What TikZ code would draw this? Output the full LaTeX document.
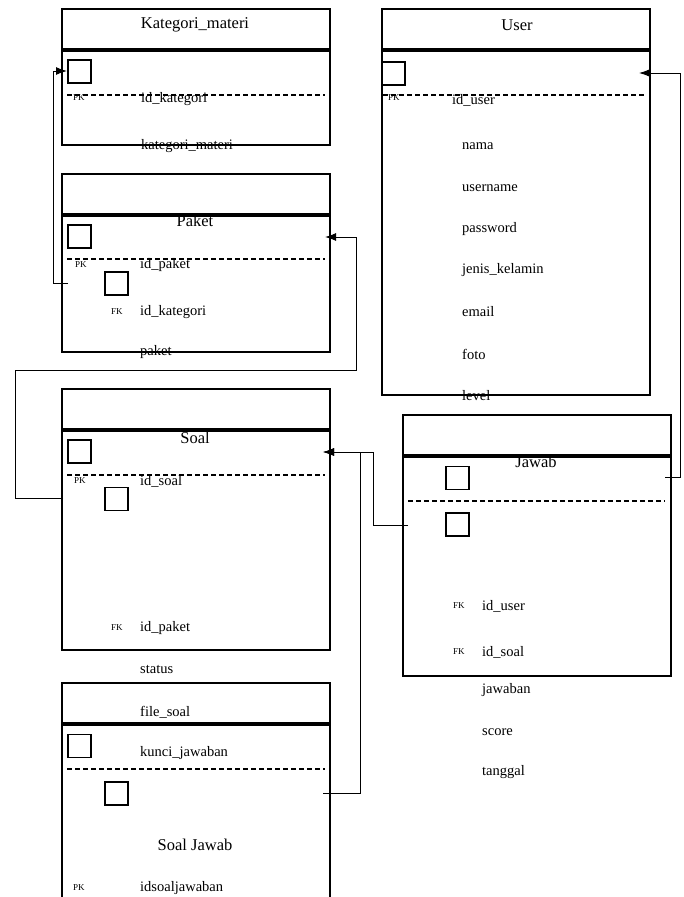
\documentclass[tikz,border=0pt]{standalone}
\usepackage{fontspec}
\setmainfont{Liberation Serif}
\usetikzlibrary{arrows.meta,positioning}

\tikzset{
  hdr/.style={draw, line width=2pt, minimum width=268pt, minimum height=40pt, inner sep=0pt, anchor=north west},
  tbody/.style={draw, line width=1.5pt, minimum width=268pt, inner sep=0pt},
  keybox/.style={draw, line width=1.5pt, minimum size=23pt, inner sep=0pt},
  field/.style={anchor=west, inner sep=0pt, font=\fontsize{14.5}{17}\selectfont},
  keytag/.style={anchor=west, inner sep=0pt, font=\fontsize{9}{10}\selectfont},
  ttl/.style={inner sep=0pt, font=\fontsize{16.5}{19}\selectfont},
  sep/.style={line width=1.3pt, dash pattern=on 5pt off 3pt},
  fk/.style={line width=1pt, -{Latex[length=11pt,width=8pt]}}
}

\begin{document}
\begin{tikzpicture}[x=1pt,y=-1pt]
\useasboundingbox (0,0) rectangle (683,897);
\clip (0,0) rectangle (683,897);

% Kategori_materi
\node[hdr] (kathead) at (61,8) {};
\node[tbody, minimum height=94pt, below=0pt of kathead] (katbody) {};
\node[ttl] (kattitle) at (195,25) {Kategori\_materi};
\node[keybox] (katk1) at (79.5,71.5) {};
\draw[sep] (67,95)--(325,95);
\node[keytag] (katpk) at (73,98) {PK};
\node[field] (katid) at (141,99) {id\_kategori};
\node[field] (katname) at (141,146) {kategori\_materi};

% User
\node[hdr] (userhead) at (381,8) {};
\node[tbody, minimum height=344pt, below=0pt of userhead] (userbody) {};
\node[ttl] (usertitle) at (517,25) {User};
\node[keybox] (userk1) at (393.5,73.5) {};
\draw[sep] (383,95)--(645,95);
\node[keytag] (userpk) at (388,98) {PK};
\node[field] (userid) at (452,100) {id\_user};
\node[field] (usernama) at (462,146) {nama};
\node[field] (useruname) at (462,188) {username};
\node[field] (userpass) at (462,229) {password};
\node[field] (userjk) at (462,270) {jenis\_kelamin};
\node[field] (usermail) at (462,312) {email};
\node[field] (userfoto) at (462,354) {foto};
\node[field] (userlevel) at (462,396) {level};

% Paket
\node[hdr] (pakethead) at (61,173) {};
\node[tbody, minimum height=136pt, below=0pt of pakethead] (paketbody) {};
\node[ttl] (pakettitle) at (195,221) {Paket};
\node[keybox] (paketk1) at (79.5,236.5) {};
\node[keybox] (paketk2) at (116.5,283.5) {};
\draw[sep] (67,259)--(325,259);
\node[keytag] (paketpk) at (75,265) {PK};
\node[field] (paketid) at (140,265) {id\_paket};
\node[keytag] (paketfk) at (111,312) {FK};
\node[field] (paketkat) at (140,312) {id\_kategori};
\node[field] (paketname) at (140,352) {paket};

% Soal
\node[hdr] (soalhead) at (61,388) {};
\node[tbody, minimum height=219pt, below=0pt of soalhead] (soalbody) {};
\node[ttl] (soaltitle) at (195,438) {Soal};
\node[keybox] (soalk1) at (79.5,451.5) {};
\node[keybox] (soalk2) at (116.5,499) {};
\draw[sep] (67,475)--(325,475);
\node[keytag] (soalpk) at (74,481) {PK};
\node[field] (soalid) at (140,481) {id\_soal};
\node[keytag] (soalfk) at (111,628) {FK};
\node[field] (soalpaket) at (140,628) {id\_paket};
\node[field] (soalstatus) at (140,669) {status};
\node[field] (soalfile) at (140,712) {file\_soal};
\node[field] (soalkunci) at (140,753) {kunci\_jawaban};

% Jawab
\node[hdr] (jawabhead) at (402,414) {};
\node[tbody, minimum height=219pt, below=0pt of jawabhead] (jawabbody) {};
\node[ttl] (jawabtitle) at (536,462) {Jawab};
\node[keybox] (jawabk1) at (457.5,478) {};
\node[keybox] (jawabk2) at (457.5,524.5) {};
\draw[sep] (408,501)--(665,501);
\node[keytag] (jawabfk1) at (453,606) {FK};
\node[field] (jawabuid) at (482,606) {id\_user};
\node[keytag] (jawabfk2) at (453,652) {FK};
\node[field] (jawabsid) at (482,652) {id\_soal};
\node[field] (jawabjwb) at (482,690) {jawaban};
\node[field] (jawabscore) at (482,732) {score};
\node[field] (jawabtgl) at (482,772) {tanggal};

% Soal Jawab
\node[hdr] (sjhead) at (61,682) {};
\node[tbody, minimum height=200pt, below=0pt of sjhead] (sjbody) {};
\node[keybox] (sjk1) at (79.5,746) {};
\node[keybox] (sjk2) at (116.5,793.5) {};
\draw[sep] (67,769)--(325,769);
\node[ttl] (sjtitle) at (195,845) {Soal Jawab};
\node[keytag] (sjpk) at (73,888) {PK};
\node[field] (sjid) at (140,888) {idsoaljawaban};

% relasi
\coordinate (katin) at (67,71);
\coordinate (paketout) at (68,283);
\coordinate (paketin) at (325,237);
\coordinate (soalout) at (63,498);
\coordinate (soalin) at (323,452);
\coordinate (jawabout) at (408,525);
\coordinate (jawabuser) at (665,477);
\coordinate (userin) at (639,73);
\coordinate (sjout) at (323,793);

\draw[fk] (paketout) -- ++(-15,0) |- (katin);
\draw[fk] (soalout) -- ++(-48,0) -- ++(0,-128) -| ([xshift=31pt]paketin) -- (paketin);
\draw[fk] (jawabout) -- ++(-35,0) |- (soalin);
\draw[fk] (sjout) -- ++(37,0) |- (soalin);
\draw[fk] (jawabuser) -- ++(15,0) |- (userin);
\end{tikzpicture}
\end{document}
